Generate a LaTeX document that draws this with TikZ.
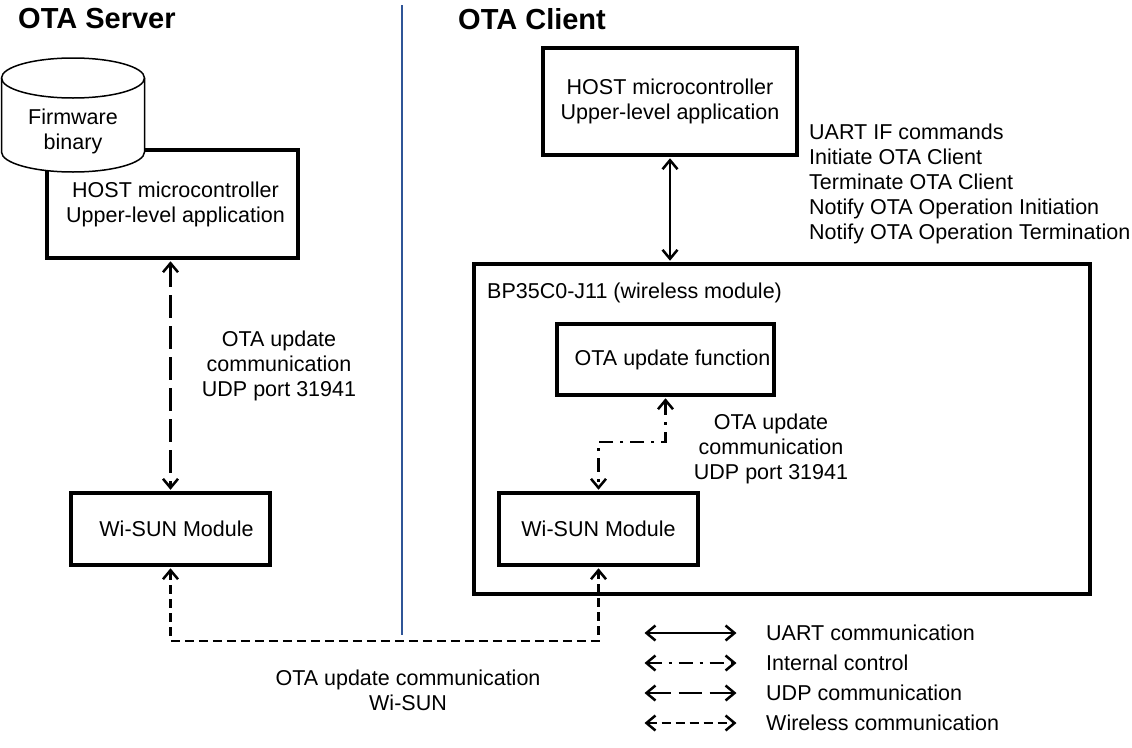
\documentclass[tikz,border=0pt]{standalone}
\usepackage{fontspec}
\setmainfont{Liberation Sans}
\usetikzlibrary{arrows.meta}
\newcommand{\mytxt}{\fontsize{21.5}{25}\selectfont}
\newcommand{\mytitle}{\fontsize{29}{32}\selectfont\bfseries}
\begin{document}
\begin{tikzpicture}[x=1pt,y=-1pt,
  box/.style={draw, line width=3.5pt, inner sep=0pt, align=center, font=\mytxt},
  txt/.style={inner sep=0pt, align=center, font=\mytxt},
  ltxt/.style={inner sep=0pt, align=left, font=\mytxt},
  conn/.style={line width=2.5pt, {Straight Barb[length=9pt,width=15pt]}-{Straight Barb[length=9pt,width=15pt]}, shorten <=1.5pt, shorten >=1.5pt},
  uart/.style={conn},
  udp/.style={conn, dash pattern=on 23pt off 8pt},
  wless/.style={conn, dash pattern=on 9pt off 5pt},
  ictrl/.style={conn, dash pattern=on 14pt off 7pt on 3pt off 7pt},
]
\useasboundingbox (0,0) rectangle (1132,747);

% divider
\draw[line width=2pt, color={rgb,255:red,47;green,85;blue,151}] (401.5,5) coordinate (d1) -- (401.5,635) coordinate (d2);

% titles
\node[inner sep=0pt, anchor=west, font=\mytitle] (tserver) at (18,19) {OTA Server};
\node[inner sep=0pt, anchor=west, font=\mytitle] (tclient) at (458,19) {OTA Client};

% server side
\node[box, minimum width=251pt, minimum height=108pt] (shost) at (172.5,204) {\hspace*{6pt}HOST microcontroller\\\hspace*{6pt}Upper-level application};
\draw[fill=white, line width=1.5pt] (1.5,78) -- (1.5,152)
  arc[start angle=180,end angle=360,x radius=71.5pt,y radius=20pt] -- (144.5,78)
  arc[start angle=0,end angle=180,x radius=71.5pt,y radius=20pt] -- cycle;
\draw[line width=1.5pt] (1.5,78) arc[start angle=180,end angle=360,x radius=71.5pt,y radius=20pt];
\node[txt] (fw) at (73,131) {Firmware\\binary};

\node[box, minimum width=199pt, minimum height=72pt] (wss) at (170.5,529) {\hspace*{12pt}Wi-SUN Module};
\draw[udp] (wss.north |- shost.south) -- (wss.north);
\node[txt] (udplbl) at (279,366) {OTA update\\communication\\UDP port 31941};

% client side
\node[box, minimum width=254pt, minimum height=107pt] (chost) at (670,101.5) {HOST microcontroller\\Upper-level application};
\node[ltxt, anchor=west] (cmds) at (809,184) {UART IF commands\\Initiate OTA Client\\Terminate OTA Client\\Notify OTA Operation Initiation\\Notify OTA Operation Termination};

\node[draw, line width=3.5pt, inner sep=0pt, minimum width=616pt, minimum height=330pt] (bp) at (782,429) {};
\node[txt, anchor=west] (bplbl) at (487,293) {BP35C0-J11 (wireless module)};
\draw[uart] (chost.south) -- (chost.south |- bp.north);

\node[box, minimum width=217pt, minimum height=71pt] (otaf) at (665.5,359.5) {\hspace*{14pt}OTA update function};
\node[box, minimum width=199pt, minimum height=72pt] (cws) at (598.5,529) {Wi-SUN Module};
\coordinate (k1) at (0,442);
\draw[ictrl] (otaf.south) -- (otaf.south |- k1) -| (cws.north);
\node[txt] (udplbl2) at (771,449) {OTA update\\communication\\UDP port 31941};

% wireless
\coordinate (k2) at (0,641);
\draw[wless] (wss.south) -- (wss.south |- k2) -| (cws.south);
\node[txt] (wlbl) at (408,690) {OTA update communication\\Wi-SUN};

% legend
\coordinate (la1) at (643,633); \coordinate (lb1) at (738,633);
\coordinate (la2) at (643,663); \coordinate (lb2) at (738,663);
\coordinate (la3) at (643,693); \coordinate (lb3) at (738,693);
\coordinate (la4) at (643,723); \coordinate (lb4) at (738,723);
\draw[uart] (la1) -- (lb1);
\draw[ictrl] (la2) -- (lb2);
\draw[udp] (la3) -- (lb3);
\draw[wless] (la4) -- (lb4);
\node[ltxt, anchor=west] (l1) at (766,633) {UART communication};
\node[ltxt, anchor=west] (l2) at (766,663) {Internal control};
\node[ltxt, anchor=west] (l3) at (766,693) {UDP communication};
\node[ltxt, anchor=west] (l4) at (766,723) {Wireless communication};
\end{tikzpicture}
\end{document}
